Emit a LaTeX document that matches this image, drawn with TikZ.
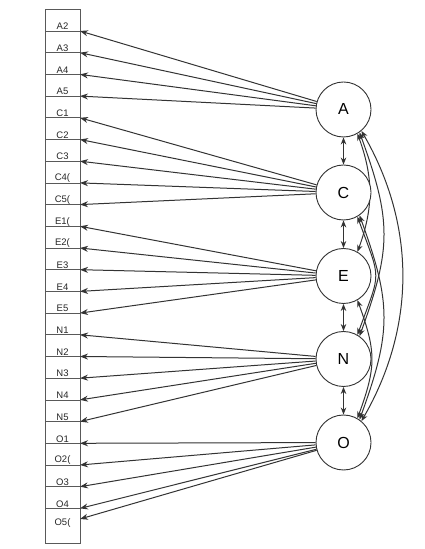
\documentclass[tikz,border=0pt]{standalone}
\usepackage{fontspec}
\setmainfont{Liberation Sans}
\usetikzlibrary{arrows.meta}
\pgfdeclarelayer{bg}
\pgfsetlayers{bg,main}
\begin{document}
\begin{tikzpicture}[x=1pt,y=1pt,
  lbl/.style={font=\fontsize{9.5}{10}\selectfont, inner sep=0pt, text=black!85},
  fac/.style={circle, draw=black!80, fill=white, line width=0.9pt, minimum size=55pt, inner sep=0pt, font=\fontsize{16}{17}\selectfont},
  load/.style={draw=black!80, line width=1pt, -{Stealth[length=8pt,width=6pt]}},
  cov/.style={draw=black!80, line width=1pt, {Stealth[length=7pt,width=5.5pt]}-{Stealth[length=7pt,width=5.5pt]}},
  cell/.style={draw=black!65, line width=0.7pt}]
\useasboundingbox (0,0) rectangle (424,549);
% factors
\node[fac] (A) at (343.5,439.5) {A};
\node[fac] (C) at (343.5,356.5) {C};
\node[fac] (E) at (343.5,273) {E};
\node[fac] (N) at (343.5,190) {N};
\node[fac] (O) at (343.5,106.5) {O};
% item column
\draw[cell] (45,6) rectangle (80,540);
\foreach \n/\t/\f [count=\k from 0] in {A2/A2/A,A3/A3/A,A4/A4/A,A5/A5/A,
  C1/C1/C,C2/C2/C,C3/C3/C,C4/{C4(}/C,C5/{C5(}/C,
  E1/{E1(}/E,E2/{E2(}/E,E3/E3/E,E4/E4/E,E5/E5/E,
  N1/N1/N,N2/N2/N,N3/N3/N,N4/N4/N,N5/N5/N,
  O1/O1/O,O2/{O2(}/O,O3/O3/O,O4/O4/O} {
  \pgfmathsetmacro\ys{518-21.7*\k}
  \draw[cell] (45,\ys) -- (80,\ys);
  \node[lbl] (l\n) at (62.5,\ys+4.5) {\t};
  \coordinate (t\n) at (80,\ys);
  \draw[load] (\f) -- (t\n);
}
\node[lbl] (lO5) at (62.5,26) {O5(};
\coordinate (tO5) at (80,30);
\draw[load] (O) -- (tO5);
% adjacent covariances
\draw[cov] (A) -- (C);
\draw[cov] (C) -- (E);
\draw[cov] (E) -- (N);
\draw[cov] (N) -- (O);
% curved covariances
\begin{pgfonlayer}{bg}
\draw[cov] (A.-60) .. controls +(-70:47) and +(70:47) .. (E.60);
\draw[cov] (A.-55) .. controls +(-70:94) and +(70:94) .. (N.55);
\draw[cov] (A.-50) .. controls +(-60:109) and +(60:109) .. (O.50);
\draw[cov] (C.-60) .. controls +(-70:70) and +(70:70) .. (N.60);
\draw[cov] (C.-55) .. controls +(-70:94) and +(70:94) .. (O.55);
\draw[cov] (E.-60) .. controls +(-70:55) and +(70:55) .. (O.60);
\end{pgfonlayer}
\end{tikzpicture}
\end{document}
